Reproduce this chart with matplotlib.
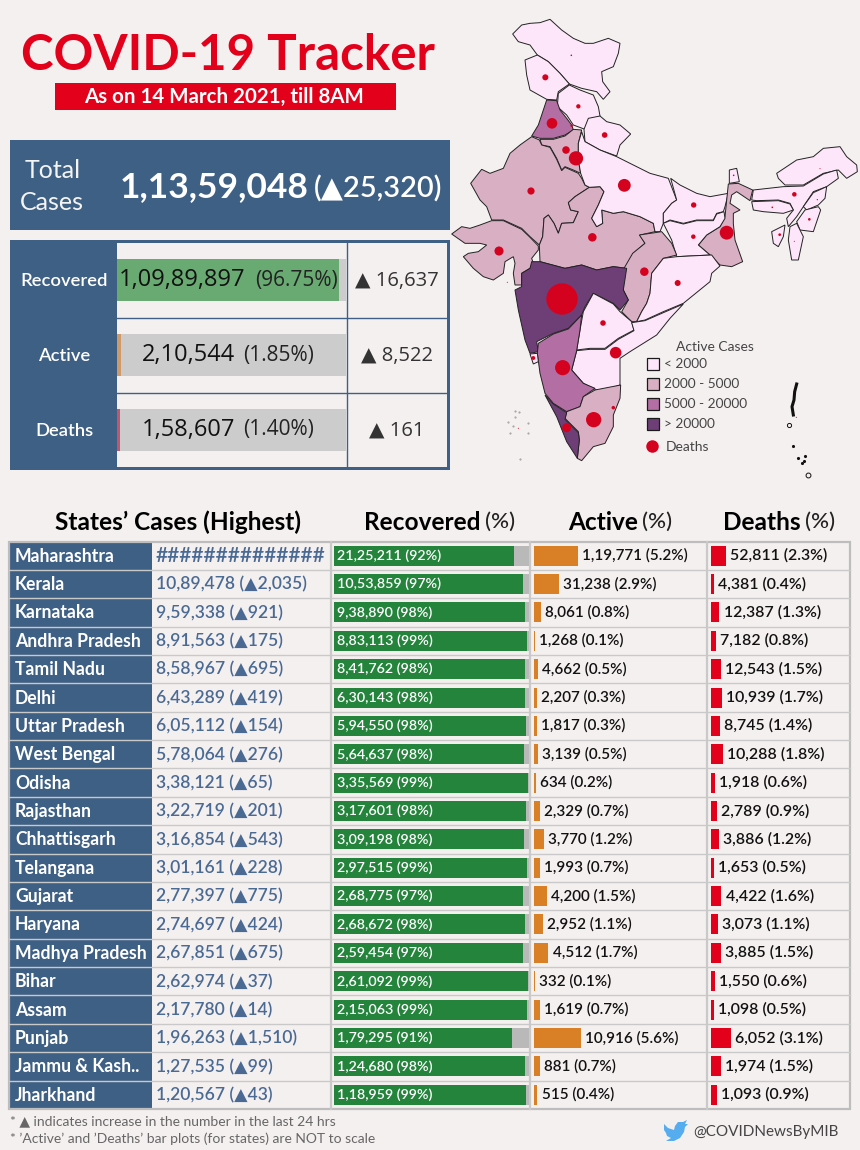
import matplotlib
matplotlib.use('Agg')
import matplotlib.pyplot as plt
from matplotlib.patches import Polygon, Rectangle
import numpy as np

plt.rcParams['font.family'] = ['Lato', 'DejaVu Sans']
OPEN = ['Open Sans', 'DejaVu Sans']

# colours
BG = '#f5f0f0'
RED = '#e2001a'
BLUE = '#3f6085'
BLUE_TXT = '#4a6a94'
GRID = '#c9c9c9'
PINK = ['#fde6f9', '#d9afc3', '#b36ea3', '#6e3f77']
DOT = '#d5021f'

# national figures
kpi_names = ['Recovered', 'Active', 'Deaths']
kpi_values = ['1,09,89,897', '2,10,544', '1,58,607']
kpi_pct = [96.75, 1.85, 1.40]
kpi_delta = ['16,637', '8,522', '161']
kpi_colors = ['#69aa72', '#d09a68', '#c0566f']

# states table
state_names = ['Maharashtra', 'Kerala', 'Karnataka', 'Andhra Pradesh', 'Tamil Nadu', 'Delhi',
               'Uttar Pradesh', 'West Bengal', 'Odisha', 'Rajasthan', 'Chhattisgarh', 'Telangana',
               'Gujarat', 'Haryana', 'Madhya Pradesh', 'Bihar', 'Assam', 'Punjab',
               'Jammu & Kash..', 'Jharkhand']
total_labels = ['##############', '10,89,478 (▲2,035)', '9,59,338 (▲921)', '8,91,563 (▲175)',
                '8,58,967 (▲695)', '6,43,289 (▲419)', '6,05,112 (▲154)', '5,78,064 (▲276)',
                '3,38,121 (▲65)', '3,22,719 (▲201)', '3,16,854 (▲543)', '3,01,161 (▲228)',
                '2,77,397 (▲775)', '2,74,697 (▲424)', '2,67,851 (▲675)', '2,62,974 (▲37)',
                '2,17,780 (▲14)', '1,96,263 (▲1,510)', '1,27,535 (▲99)', '1,20,567 (▲43)']
recovered_labels = ['21,25,211', '10,53,859', '9,38,890', '8,83,113', '8,41,762', '6,30,143',
                    '5,94,550', '5,64,637', '3,35,569', '3,17,601', '3,09,198', '2,97,515',
                    '2,68,775', '2,68,672', '2,59,454', '2,61,092', '2,15,063', '1,79,295',
                    '1,24,680', '1,18,959']
recovered_pct = [92, 97, 98, 99, 98, 98, 98, 98, 99, 98, 98, 99, 97, 98, 97, 99, 99, 91, 98, 99]
active_labels = ['1,19,771', '31,238', '8,061', '1,268', '4,662', '2,207', '1,817', '3,139', '634',
                 '2,329', '3,770', '1,993', '4,200', '2,952', '4,512', '332', '1,619', '10,916',
                 '881', '515']
active_pct = [5.2, 2.9, 0.8, 0.1, 0.5, 0.3, 0.3, 0.5, 0.2, 0.7, 1.2, 0.7, 1.5, 1.1, 1.7, 0.1, 0.7,
              5.6, 0.7, 0.4]
deaths_labels = ['52,811', '4,381', '12,387', '7,182', '12,543', '10,939', '8,745', '10,288',
                 '1,918', '2,789', '3,886', '1,653', '4,422', '3,073', '3,885', '1,550', '1,098',
                 '6,052', '1,974', '1,093']
deaths_pct = [2.3, 0.4, 1.3, 0.8, 1.5, 1.7, 1.4, 1.8, 0.6, 0.9, 1.2, 0.5, 1.6, 1.1, 1.5, 0.6, 0.5,
              3.1, 1.5, 0.9]


def to_int(labels):
    return [int(s.replace(',', '')) for s in labels]


recovered = np.array(to_int(recovered_labels))
active = np.array(to_int(active_labels))
deaths = np.array(to_int(deaths_labels))
# Maharashtra's total is hidden behind the hashes
recovered_share = recovered / (recovered + active + deaths) * 100

# states on the map but not in the table (estimated)
other_names = ['Ladakh', 'Himachal Pradesh', 'Uttarakhand', 'Chandigarh', 'Sikkim', 'Arunachal Pradesh',
               'Nagaland', 'Manipur', 'Meghalaya', 'Tripura', 'Mizoram', 'Daman', 'Dadra', 'Goa',
               'Puducherry', 'Lakshadweep', 'Andaman']
other_active = [30, 350, 500, 600, 40, 10, 20, 30, 30, 20, 10, 5, 5, 500, 150, 60, 10]
other_deaths = [130, 1000, 1700, 350, 135, 56, 91, 373, 149, 390, 40, 30, 60, 800, 670, 30, 62]

active_by_state = dict(zip(state_names + other_names, list(active) + other_active))
deaths_by_state = dict(zip(state_names + other_names, list(deaths) + other_deaths))

# bubble anchors on the map, in map units
dot_pos = {'Ladakh': (364, 136), 'Jammu & Kash..': (286, 202), 'Himachal Pradesh': (385, 289),
           'Uttarakhand': (464, 375), 'Punjab': (306, 340), 'Chandigarh': (365, 347), 'Haryana': (348, 420),
           'Delhi': (378, 445), 'Rajasthan': (243, 543), 'Uttar Pradesh': (523, 526), 'Bihar': (731, 585),
           'Sikkim': (851, 496), 'Arunachal Pradesh': (1110, 476), 'Assam': (1033, 553), 'Nagaland': (1102, 569),
           'Manipur': (1078, 628), 'Meghalaya': (967, 592), 'Tripura': (989, 674), 'Mizoram': (1033, 694),
           'West Bengal': (830, 668), 'Jharkhand': (730, 680), 'Gujarat': (147, 723), 'Madhya Pradesh': (427, 682),
           'Chhattisgarh': (583, 785), 'Odisha': (683, 819), 'Maharashtra': (336, 867), 'Daman': (172, 817),
           'Dadra': (210, 832), 'Telangana': (459, 939), 'Andhra Pradesh': (497, 1028), 'Goa': (250, 1044),
           'Karnataka': (338, 1073), 'Puducherry': (490, 1193), 'Tamil Nadu': (431, 1229), 'Kerala': (350, 1253),
           'Lakshadweep': (205, 1255), 'Andaman': (1039, 1222)}

# hand traced state outlines, in map units
outlines = {
    'Ladakh': [(188, 72), (215, 45), (240, 40), (270, 38), (300, 28), (335, 60), (370, 85), (405, 100), (430, 100),
               (475, 85), (510, 100), (505, 130), (490, 170), (455, 185), (458, 215), (480, 245), (460, 268),
               (440, 245), (395, 235), (358, 222), (330, 190), (295, 155), (262, 135), (240, 105), (205, 95)],
    'Jammu & Kash..': [(225, 150), (262, 135), (295, 155), (330, 190), (358, 222), (325, 245), (320, 270),
                       (290, 268), (240, 240), (230, 195)],
    'Himachal Pradesh': [(358, 225), (390, 240), (430, 255), (445, 290), (450, 318), (405, 358), (370, 345),
                         (350, 315), (322, 290), (325, 250)],
    'Uttarakhand': [(415, 325), (450, 318), (470, 335), (510, 345), (542, 372), (510, 405), (500, 438), (450, 420),
                    (405, 395), (402, 358)],
    'Punjab': [(290, 270), (320, 272), (330, 300), (350, 325), (365, 345), (370, 360), (345, 375), (310, 385),
               (270, 385), (245, 378), (265, 345)],
    'Haryana': [(270, 388), (310, 388), (345, 378), (370, 358), (395, 360), (385, 400), (385, 450), (392, 490),
                (370, 480), (345, 470), (335, 480), (320, 445), (300, 410), (275, 405)],
    'Rajasthan': [(245, 380), (268, 390), (275, 405), (300, 412), (320, 448), (335, 482), (345, 472), (385, 490),
                  (395, 505), (405, 525), (418, 532), (375, 560), (355, 578), (362, 600), (385, 605), (370, 638),
                  (335, 640), (325, 670), (312, 640), (295, 615), (282, 625), (278, 680), (268, 705), (240, 680),
                  (215, 655), (160, 630), (125, 630), (110, 590), (90, 570), (62, 520), (95, 478), (120, 490),
                  (160, 475), (180, 430), (210, 405)],
    'Gujarat': [(5, 672), (35, 650), (60, 655), (90, 645), (125, 632), (160, 632), (215, 658), (240, 682), (265, 708),
                (265, 720), (245, 745), (250, 760), (240, 775), (215, 790), (215, 825), (195, 825), (190, 790),
                (195, 760), (190, 740), (165, 755), (160, 790), (130, 810), (100, 800), (70, 775), (40, 740),
                (55, 730), (85, 725), (110, 705), (90, 700), (45, 700)],
    'Madhya Pradesh': [(282, 625), (295, 615), (312, 640), (325, 670), (335, 640), (370, 638), (385, 605), (362, 600),
                       (355, 578), (375, 560), (418, 532), (450, 530), (462, 545), (445, 585), (425, 625), (440, 650),
                       (458, 640), (455, 600), (490, 610), (520, 605), (570, 620), (610, 640), (615, 665), (570, 675),
                       (585, 700), (550, 730), (530, 775), (490, 770), (440, 780), (395, 765), (345, 775), (270, 755),
                       (268, 705), (278, 680)],
    'Uttar Pradesh': [(395, 365), (405, 395), (450, 420), (500, 440), (560, 470), (600, 490), (655, 505), (680, 570),
                      (665, 580), (640, 610), (640, 640), (630, 665), (615, 665), (610, 640), (570, 620), (520, 605),
                      (490, 610), (455, 600), (458, 640), (440, 650), (425, 625), (445, 585), (462, 545), (450, 530),
                      (418, 532), (405, 525), (392, 490), (385, 450), (385, 400)],
    'Bihar': [(662, 505), (690, 525), (740, 550), (780, 560), (835, 550), (825, 590), (820, 605), (800, 610),
              (790, 630), (740, 630), (700, 640), (660, 630), (640, 640), (640, 610), (665, 580), (680, 570)],
    'Sikkim': [(838, 480), (860, 475), (868, 515), (838, 520)],
    'West Bengal': [(835, 522), (865, 520), (908, 540), (900, 572), (860, 545), (845, 555), (840, 580), (870, 600),
                    (850, 610), (850, 640), (855, 690), (878, 755), (845, 770), (810, 765), (780, 735), (745, 705),
                    (770, 675), (810, 650), (825, 620)],
    'Jharkhand': [(640, 640), (660, 632), (700, 642), (740, 632), (790, 632), (800, 612), (822, 605), (825, 625),
                  (810, 650), (770, 675), (745, 705), (780, 735), (740, 737), (680, 740), (665, 690)],
    'Chhattisgarh': [(615, 668), (635, 665), (665, 700), (680, 735), (640, 745), (605, 790), (600, 850), (590, 880),
                     (575, 905), (560, 935), (545, 935), (515, 905), (535, 870), (520, 840), (522, 775), (548, 730),
                     (585, 700), (568, 675)],
    'Odisha': [(680, 740), (740, 737), (785, 735), (810, 768), (785, 790), (780, 815), (700, 880), (640, 905),
               (585, 930), (560, 935), (575, 905), (590, 880), (600, 850), (605, 790), (640, 745)],
    'Maharashtra': [(245, 755), (270, 755), (345, 775), (395, 765), (440, 780), (490, 770), (530, 775), (520, 840),
                    (535, 870), (510, 900), (490, 880), (430, 850), (405, 890), (395, 915), (355, 955), (310, 970),
                    (260, 995), (265, 1025), (240, 1030), (225, 990), (205, 900), (195, 840), (215, 830), (215, 790),
                    (240, 775)],
    'Telangana': [(430, 850), (490, 882), (510, 905), (545, 935), (552, 960), (505, 985), (465, 1015), (420, 1015),
                  (380, 1020), (390, 960), (400, 905)],
    'Andhra Pradesh': [(380, 1022), (420, 1018), (465, 1018), (505, 988), (552, 962), (545, 938), (585, 932), (640, 908),
                       (700, 882), (660, 925), (620, 975), (540, 1025), (510, 1045), (510, 1125), (450, 1145), (400, 1120),
                       (365, 1080)],
    'Karnataka': [(265, 1000), (310, 972), (355, 957), (395, 915), (390, 960), (380, 1022), (365, 1080), (400, 1120),
                  (435, 1135), (400, 1160), (390, 1190), (350, 1205), (310, 1180), (285, 1150), (270, 1090), (262, 1030)],
    'Goa': [(240, 1032), (262, 1030), (265, 1055), (250, 1062)],
    'Tamil Nadu': [(400, 1160), (435, 1140), (512, 1125), (510, 1165), (490, 1215), (490, 1250), (465, 1300), (430, 1310),
                   (395, 1352), (382, 1345), (388, 1290), (385, 1265), (345, 1225), (350, 1205), (390, 1190)],
    'Kerala': [(285, 1155), (310, 1182), (350, 1208), (345, 1228), (385, 1268), (388, 1290), (382, 1345), (350, 1295),
               (320, 1220)],
    'Arunachal Pradesh': [(980, 490), (1040, 450), (1090, 440), (1120, 415), (1170, 410), (1190, 440), (1220, 465),
                          (1222, 485), (1190, 505), (1165, 480), (1120, 490), (1060, 525), (1005, 525), (985, 505)],
    'Assam': [(910, 540), (1000, 530), (1060, 528), (1120, 492), (1160, 480), (1165, 505), (1130, 530), (1090, 545),
              (1060, 590), (1040, 620), (1015, 650), (1010, 625), (1030, 600), (1020, 580), (985, 570), (920, 572),
              (905, 570)],
    'Meghalaya': [(905, 575), (985, 572), (1020, 582), (1030, 600), (1000, 610), (940, 605), (910, 600)],
    'Nagaland': [(1130, 530), (1125, 565), (1105, 585), (1070, 600), (1060, 590), (1090, 548)],
    'Manipur': [(1105, 590), (1112, 600), (1090, 665), (1050, 660), (1040, 635), (1065, 600)],
    'Mizoram': [(1020, 650), (1040, 640), (1060, 680), (1045, 750), (1025, 750), (1015, 690)],
    'Tripura': [(965, 665), (1005, 645), (1000, 680), (985, 710), (970, 700)],
}
andaman_line = [(1040, 1122), (1034, 1145), (1032, 1170), (1026, 1190), (1030, 1215)]
nicobar_x = [1030, 1045, 1055, 1062, 1066]
nicobar_y = [1308, 1345, 1358, 1352, 1338]
lakshadweep_x = [195, 208, 196, 175, 190, 235, 234, 180, 210]
lakshadweep_y = [1202, 1207, 1222, 1236, 1248, 1240, 1270, 1270, 1346]

legend_labels = ['< 2000', '2000 - 5000', '5000 - 20000', '> 20000']
legend_active = [1000, 3000, 10000, 50000]


def active_color(n):
    if n < 2000:
        return PINK[0]
    if n < 5000:
        return PINK[1]
    if n < 20000:
        return PINK[2]
    return PINK[3]


W, H = 860, 1150
fig = plt.figure(figsize=(W / 100, H / 100), dpi=100, facecolor=BG)


def pixel_axes(x0, y0, x1, y1, z=2):
    a = fig.add_axes([x0 / W, 1 - y1 / H, (x1 - x0) / W, (y1 - y0) / H], zorder=z)
    a.axis('off')
    return a


# page axes, everything that is not a bar goes here in pixel units
ax = pixel_axes(0, 0, W, H, 1)
ax.set_xlim(0, W)
ax.set_ylim(H, 0)

# title
ax.text(228, 55, 'COVID-19 Tracker', color=RED, fontsize=35.5, fontweight='bold', ha='center', va='center')
ax.add_patch(Rectangle((55, 83), 341, 27, color=RED, lw=0))
ax.text(224, 97, 'As on 14 March 2021, till 8AM', color='white', fontsize=14.8, fontweight='bold', ha='center', va='center')

# total cases
ax.add_patch(Rectangle((10, 140), 440, 90, color=BLUE, lw=0))
ax.text(53, 171, 'Total', color='#f4f4f4', fontsize=18, ha='center', va='center')
ax.text(52, 202, 'Cases', color='#f4f4f4', fontsize=18, ha='center', va='center')
ax.text(120, 187, '1,13,59,048', color='white', fontsize=25.5, fontweight='bold', ha='left', va='center')
ax.text(314, 189, '(▲25,320)', color='white', fontsize=20.8, fontweight='semibold', ha='left', va='center')

# national panel
ax.add_patch(Rectangle((10, 240), 440, 230, color=BLUE, lw=0))
ax.add_patch(Rectangle((117, 243), 330, 224, color=BG, lw=0))
ax.plot([347, 347], [243, 467], color=BLUE, lw=1)
for y in [317.5, 392.5]:
    ax.plot([117, 447], [y, y], color=BLUE, lw=1)

kpi_ax = pixel_axes(117, 243, 346, 467)
kpi_ax.set_xlim(0, 100)
kpi_ax.set_ylim(2.5, -0.5)
kpi_ax.barh(range(3), [100] * 3, height=42 / 74.7, color='#cccccc')
kpi_ax.barh(range(3), kpi_pct, height=42 / 74.7, color=kpi_colors)
kpi_value_x = [0.8, 10.9, 10.9]
kpi_pct_x = [60.3, 55, 55]
for i, name in enumerate(kpi_names):
    yy = 281 + i * 75
    ax.text(64, yy, name, color='white', fontsize=13.2, fontweight='semibold', ha='center', va='center')
    kpi_ax.text(kpi_value_x[i], i, kpi_values[i], fontsize=17, family=OPEN, color='#111111', ha='left', va='center')
    kpi_ax.text(kpi_pct_x[i], i, '(%.2f%%)' % kpi_pct[i], fontsize=15, family=OPEN, color='#222222', ha='left', va='center')
    ax.text(397, yy, '▲ ' + kpi_delta[i], fontsize=14.5, family=OPEN, color='#333333', ha='center', va='center')

# table headers
header_split = [(301, "States’ Cases (Highest)", ''), (481, 'Recovered', '(%)'), (638, 'Active', '(%)'), (801, 'Deaths', '(%)')]
for x, head, unit in header_split:
    ax.text(x, 522, head, color='black', fontsize=17.6, fontweight='bold', ha='right', va='center')
    if unit:
        ax.text(x + 4, 522, unit, color='#222222', fontsize=16, fontweight='medium', ha='left', va='center')

# table frame
top, row_h = 541.5, 28.37
n = len(state_names)
bottom = top + n * row_h
ax.add_patch(Rectangle((9, top), 143, bottom - top, color=BLUE, lw=0))
for i in range(1, n):
    y = top + i * row_h
    ax.plot([9, 850], [y, y], color=GRID, lw=1)
for x in [331, 530, 707]:
    ax.plot([x, x], [top, bottom], color=GRID, lw=1.6)
ax.add_patch(Rectangle((8.5, top), 841, bottom - top, fill=False, ec='#bdbdbd', lw=1.6))

for i, name in enumerate(state_names):
    y = top + (i + 0.5) * row_h + 0.5
    ax.text(15, y, name, color='white', fontsize=12.7, fontweight='bold', ha='left', va='center')
    # the hashes are the overflow of the Maharashtra cell
    total_size = 15 if total_labels[i].startswith('#') else 12.6
    ax.text(156, y, total_labels[i], color=BLUE_TXT, fontsize=total_size, fontweight='semibold', ha='left', va='center')

# recovered bars
BAR_H = 20 / row_h
rec_ax = pixel_axes(334, top, 529, bottom)
rec_ax.set_xlim(0, 100)
rec_ax.set_ylim(n - 0.5, -0.5)
rec_ax.barh(range(n), [100] * n, height=BAR_H, color='#b9b9b9')
rec_ax.barh(range(n), recovered_share, height=BAR_H, color='#24843c')
for i in range(n):
    rec_ax.annotate('%s (%d%%)' % (recovered_labels[i], recovered_pct[i]), (0, i), xytext=(2.5, 0),
                    textcoords='offset points', color='white', fontsize=10.3, fontweight='semibold',
                    ha='left', va='center')

# active bars, not to scale with the recovered ones
act_ax = pixel_axes(534, top, 706, bottom)
act_ax.set_xlim(0, 172 / 8.45)
act_ax.set_ylim(n - 0.5, -0.5)
act_ax.barh(range(n), active_pct, height=BAR_H, color='#d97f25')
for i in range(n):
    act_ax.annotate('%s (%.1f%%)' % (active_labels[i], active_pct[i]), (active_pct[i], i), xytext=(3, 0),
                    textcoords='offset points', color='#111111', fontsize=11, fontweight='semibold',
                    ha='left', va='center')

# deaths bars
dea_ax = pixel_axes(711, top, 849, bottom)
dea_ax.set_xlim(0, 138 / 6.5)
dea_ax.set_ylim(n - 0.5, -0.5)
dea_ax.barh(range(n), deaths_pct, height=BAR_H, color=RED)
for i in range(n):
    dea_ax.annotate('%s (%.1f%%)' % (deaths_labels[i], deaths_pct[i]), (deaths_pct[i], i), xytext=(3, 0),
                    textcoords='offset points', color='#111111', fontsize=11.4, fontweight='semibold',
                    ha='left', va='center')

# footer
ax.text(10, 1121, '* ▲ indicates increase in the number in the last 24 hrs', color='#666666', fontsize=10, ha='left', va='center')
ax.text(10, 1139, "* ’Active’ and ’Deaths’ bar plots (for states) are NOT to scale", color='#666666', fontsize=10, ha='left', va='center')
ax.text(693, 1132, '@COVIDNewsByMIB', color='#444444', fontsize=11, ha='left', va='center')
bird = [(664, 1124), (668, 1128), (674, 1130), (675, 1126), (678, 1122), (683, 1122), (687, 1120), (685, 1124), (688, 1124),
        (685, 1127), (684, 1132), (680, 1138), (674, 1141), (666, 1141), (671, 1138), (667, 1136), (666, 1133), (664, 1130)]
ax.add_patch(Polygon(bird, color='#55acee', lw=0))

# map, units are 3 per pixel
map_ax = pixel_axes(450, 10, 860, 490, 3)
map_ax.set_xlim(0, 1230)
map_ax.set_ylim(1440, 0)
for state, pts in outlines.items():
    map_ax.add_patch(Polygon(pts, closed=True, fc=active_color(active_by_state[state]), ec='#222222', lw=0.7))
map_ax.plot(*zip(*andaman_line), color='#111111', lw=2.2)
map_ax.plot(nicobar_x, nicobar_y, ls='none', marker='.', ms=2.5, color='#111111')
map_ax.plot([1018], [1245], ls='none', marker='o', ms=3, mfc='none', mec='#111111', mew=0.7)
map_ax.plot([1073], [1395], ls='none', marker='o', ms=3.5, mfc='none', mec='#111111', mew=0.7)
map_ax.plot(lakshadweep_x, lakshadweep_y, ls='none', marker='.', ms=1, color='#999999')

dot_states = list(dot_pos)
dot_x = [dot_pos[s][0] for s in dot_states]
dot_y = [dot_pos[s][1] for s in dot_states]
# bubble area goes with deaths, Maharashtra is 31 px across
k = (31.4 * 0.72) ** 2 / deaths[0]
dot_s = k * np.maximum([deaths_by_state[s] for s in dot_states], 60)
map_ax.scatter(dot_x, dot_y, s=dot_s, color=DOT, lw=0, zorder=5)

# map legend
map_ax.text(795, 1010, 'Active Cases', color='#444444', fontsize=10, ha='center', va='center')
for i, lab in enumerate(legend_labels):
    yy = 1045 + i * 60
    map_ax.add_patch(Rectangle((590, yy), 36, 36, fc=active_color(legend_active[i]), ec='#1a1a1a', lw=0.9))
    map_ax.text(642, yy + 18, lab, color='#444444', fontsize=9.8, ha='left', va='center')
map_ax.scatter([606], [1308], s=(12.5 * 0.72 * 1.0) ** 2, color=DOT, lw=0)
map_ax.text(647, 1310, 'Deaths', color='#444444', fontsize=10, ha='left', va='center')

fig.savefig('out.png', dpi=100, facecolor=BG)
